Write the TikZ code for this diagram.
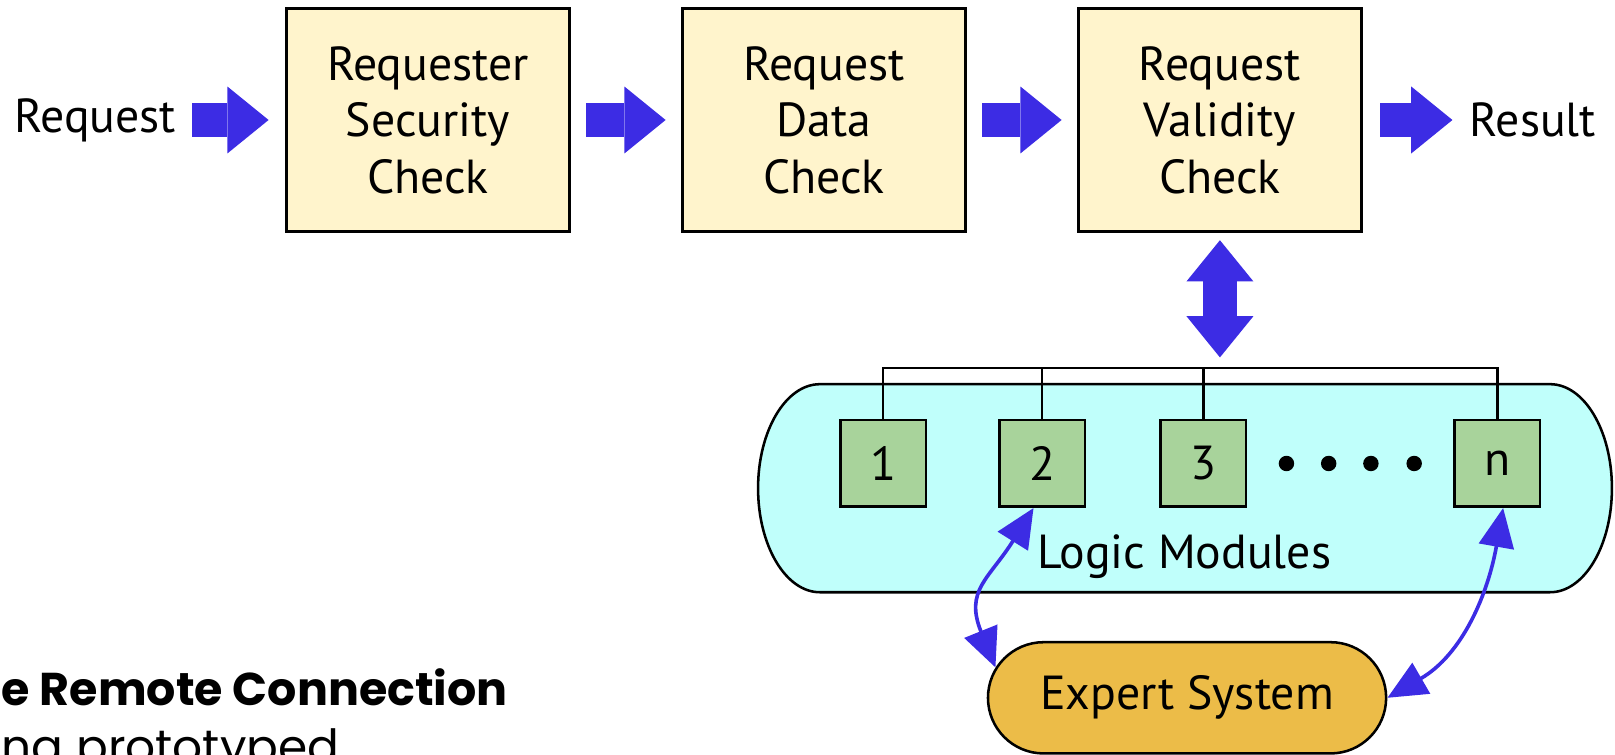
\documentclass[tikz,border=0pt]{standalone}
\usepackage{fontspec}
\setmainfont{PT Sans}
\newfontfamily\gothicfont{Poppins}
\usetikzlibrary{positioning, arrows.meta, shapes.misc}
\definecolor{checkfill}{RGB}{255,244,204}
\definecolor{modfill}{RGB}{168,211,155}
\definecolor{poolfill}{RGB}{192,255,251}
\definecolor{expertfill}{RGB}{236,188,72}
\definecolor{flowblue}{RGB}{60,44,228}
\begin{document}
\begin{tikzpicture}[every node/.style={font=\fontsize{13.2}{15.6}\selectfont}]
    \tikzstyle{check} = [rectangle, draw, line width=0.7pt, fill=checkfill, text width=2.5cm, text centered, minimum width=2.75cm, minimum height=2.17cm, inner sep=0pt]
    \tikzstyle{module} = [rectangle, draw, line width=0.7pt, fill=modfill, minimum width=0.83cm, minimum height=0.84cm, inner sep=0pt]
    \tikzstyle{expertbox} = [rounded rectangle, draw, line width=0.7pt, fill=expertfill, minimum width=4.1cm, minimum height=1.08cm]
    \tikzstyle{flow} = [draw=flowblue, line width=3.3mm, >={Triangle[length=4mm, width=6.5mm, line width=0pt]}]
    \tikzstyle{link} = [draw=flowblue, line width=1pt, <->, >={Triangle[length=3.8mm, width=3.4mm]}]
    \useasboundingbox (0,0) rectangle (15.68,7.33);
    \clip (0,0) rectangle (15.68,7.33);

    % request pipeline
    \node (sec) [check] at (4.155,6.165) {Requester\\Security\\Check};
    \node (data) [check, right=1.07cm of sec] {Request\\Data\\Check};
    \node (valid) [check, right=1.07cm of data] {Request\\Validity\\Check};
    \node (req) [left=1.05cm of sec, inner sep=0pt] {Request};
    \node (res) [right=1.03cm of valid, inner sep=0pt] {Result};

    \draw [flow, ->] ([xshift=0.15cm]req.east) -- ([xshift=-0.16cm]sec.west);
    \draw [flow, ->] ([xshift=0.15cm]sec.east) -- ([xshift=-0.15cm]data.west);
    \draw [flow, ->] ([xshift=0.15cm]data.east) -- ([xshift=-0.15cm]valid.west);
    \draw [flow, ->] ([xshift=0.17cm]valid.east) -- ([xshift=-0.16cm]res.west);

    % logic modules
    \draw [line width=0.7pt, fill=poolfill] (7.96,3.60) -- (15.05,3.60) arc[start angle=90, end angle=-90, x radius=0.60, y radius=1.01] -- (7.96,1.58) arc[start angle=270, end angle=90, x radius=0.60, y radius=1.01] -- cycle;
    \coordinate (bus) at (0,3.76);
    \node (m1) [module] at (8.575,2.83) {1};
    \node (m2) [module, right=0.69cm of m1] {2};
    \node (m3) [module, right=0.71cm of m2] {3};
    \node (mn) [module, right=2.00cm of m3] {n};
    \fill (12.49,2.83) circle (0.075) (12.90,2.83) circle (0.075) (13.31,2.83) circle (0.075) (13.73,2.83) circle (0.075);
    \node (pool) at (11.50,1.93) {Logic Modules};

    \draw [line width=0.6pt] (m1.north) |- (mn.north |- bus) -- (mn.north);
    \draw [line width=0.6pt] (m2.north) -- (m2.north |- bus);
    \draw [line width=0.6pt] (m3.north) -- (m3.north |- bus);
    \draw [flow, <->] ([yshift=-0.07cm]valid.south) -- ([yshift=0.10cm]valid.south |- bus);

    % expert system
    \node (expert) [expertbox] at (11.525,0.555) {Expert System};
    \draw [link] ([xshift=-0.085cm]m2.south) to[out=238, in=112, looseness=1.3] (expert.171);
    \draw [link] ([xshift=0.055cm]mn.south) to[out=260, in=30] (expert.east);

    % text cut at the edge
    \node (remote) [anchor=base west, inner sep=0pt, font={\gothicfont\bfseries\fontsize{12.7}{15}\selectfont}] at (0.01,0.48) {e Remote Connection};
    \node (proto) [anchor=base west, inner sep=0pt, font={\gothicfont\fontsize{13}{15}\selectfont}] at (0.01,-0.08) {ng prototyped};
\end{tikzpicture}
\end{document}
